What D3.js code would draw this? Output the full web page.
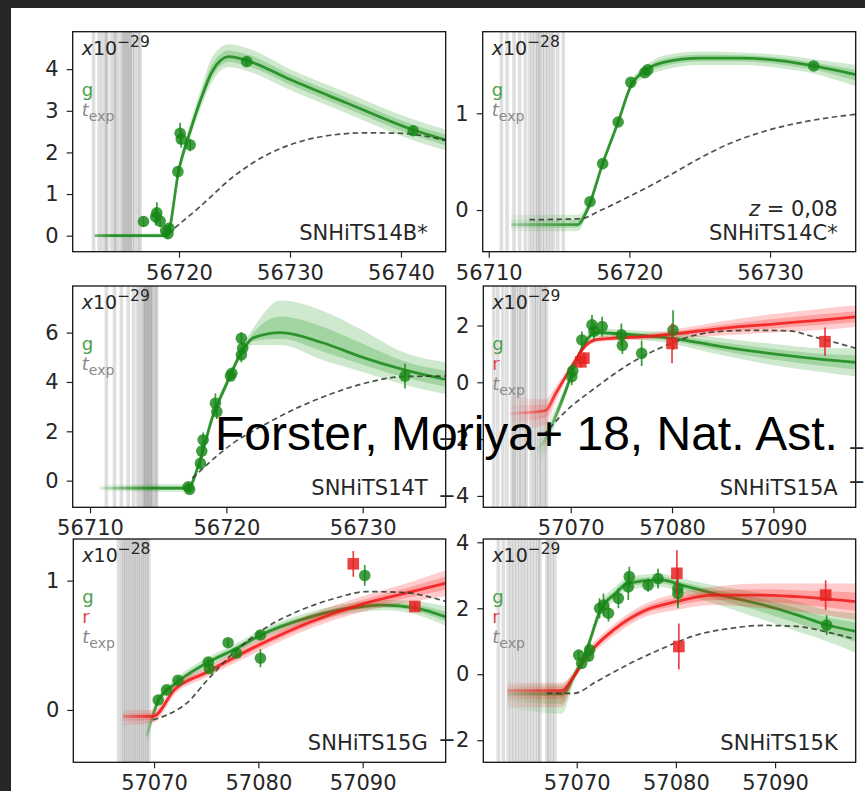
<!DOCTYPE html>
<html><head><meta charset="utf-8">
<script src="https://cdn.jsdelivr.net/npm/d3@7"></script>
<style>
html,body{margin:0;padding:0;background:#262626;}
svg{display:block;}
text{font-family:"DejaVu Sans",sans-serif;}
</style></head><body>
<svg id="chart" width="865" height="791"></svg>
<script>
// ---------------- DATA ----------------
// observations: [MJD, flux, error]; models: [MJD, centre, low, high]; dashed: [MJD, flux]
const s14B_g_obs = [[56716.8,0.34,0.12],[56717.9,0.45,0.2],[56718.0,0.55,0.25],[56718.3,0.35,0.15],[56718.8,0.12,0.1],[56719.0,0.05,0.12],[56719.1,0.18,0.1],[56719.9,1.54,0.12],[56720.1,2.46,0.25],[56720.2,2.32,0.2],[56721.0,2.18,0.15],[56726.1,4.18,0.1],[56741.1,2.52,0.12]];
const s14B_g_model = [[56712.4,0.0,-0.04,0.04],[56718.9,0.0,-0.05,0.05],[56720.0,1.6,1.45,1.75],[56721.0,2.5,2.35,2.7],[56722.0,3.3,3.1,3.55],[56723.0,3.95,3.7,4.3],[56724.5,4.3,4.05,4.6],[56726.2,4.2,3.95,4.5],[56730,3.75,3.5,4.0],[56735,3.2,2.95,3.45],[56741,2.55,2.3,2.8],[56744.03,2.3,2.05,2.55]];
const s14B_dash = [[56719.0,0.05],[56721.9,0.70],[56724.9,1.42],[56727.9,1.94],[56730.9,2.26],[56733.9,2.42],[56736.9,2.47],[56739.9,2.46],[56744.03,2.29]];
const s14B_texp = [56712.3,56712.8,56713.1,56713.4,56713.5,56713.9,56714.2,56714.3,56714.6,56714.9,56715.0,56715.2,56715.3,56715.5,56715.6,56715.8,56716.0,56716.3,56716.5];

const s14C_g_obs = [[56717.2,0.086,0.02],[56718.1,0.48,0.03],[56719.2,0.91,0.03],[56720.1,1.32,0.03],[56721.1,1.42,0.03],[56721.3,1.45,0.03],[56733.1,1.49,0.03]];
const s14C_g_model = [[56711.6,-0.15,-0.22,-0.05],[56716.3,-0.15,-0.22,-0.05],[56717.0,0.0,-0.05,0.05],[56718.1,0.48,0.44,0.52],[56719.2,0.91,0.87,0.95],[56720.1,1.28,1.24,1.33],[56721.2,1.45,1.38,1.5],[56722.5,1.53,1.45,1.6],[56725,1.57,1.5,1.64],[56728,1.57,1.5,1.63],[56731,1.54,1.46,1.6],[56733.1,1.49,1.41,1.56],[56736.09,1.40,1.28,1.5]];
const s14C_dash = [[56712.9,-0.1],[56716.5,-0.09],[56718,0.0],[56720.0,0.14],[56722.5,0.33],[56724.8,0.52],[56727,0.68],[56729.5,0.81],[56733.1,0.93],[56736.09,0.99]];
const s14C_texp = [56710.9,56711.3,56711.8,56712.2,56712.6,56712.9,56713.1,56713.3,56713.5,56713.6,56713.8,56714.0,56714.2,56714.4,56714.6,56714.9,56715.3];

const s14T_g_obs = [[56717.2,-0.25,0.15],[56717.3,-0.35,0.15],[56718.1,0.7,0.25],[56718.2,1.2,0.3],[56718.3,1.65,0.3],[56719.2,3.14,0.4],[56719.3,2.8,0.3],[56720.3,4.24,0.2],[56720.4,4.35,0.2],[56721.1,5.1,0.3],[56721.2,5.37,0.25],[56721.1,5.77,0.25],[56733.1,4.24,0.5]];
const s14T_g_model = [[56710.7,-0.3,-0.45,-0.15],[56717.2,-0.3,-0.45,-0.15],[56718,0.7,0.55,0.85],[56719,2.6,2.4,2.8],[56720,3.9,3.7,4.1],[56721,5.1,4.9,5.3],[56722,5.8,5.5,6.2],[56724,6.0,5.5,7.3],[56727,5.6,4.9,6.9],[56730,5.0,4.4,6.1],[56733,4.5,3.9,5.2],[56736.09,4.1,3.5,4.8]];
const s14T_dash = [[56717.5,0.1],[56720.5,1.52],[56723.0,2.33],[56725.4,3.0],[56727.8,3.54],[56730.3,3.97],[56733.1,4.22],[56736.09,4.24]];
const s14T_texp = [56711.2,56711.8,56712.3,56712.8,56713.2,56713.5,56713.7,56713.9,56714.0,56714.1,56714.2,56714.3,56714.4,56714.5,56714.6,56714.8,56714.9];

const s15A_g_obs = [[57070.1,0.2,0.3],[57070.2,0.4,0.25],[57071.1,1.49,0.3],[57072.1,2.02,0.35],[57072.3,1.8,0.3],[57073.1,1.96,0.35],[57075.0,1.67,0.4],[57075.1,1.3,0.3],[57077.0,1.02,0.45],[57080.1,1.84,0.7]];
const s15A_r_obs = [[57071.0,0.72,0.2],[57071.3,0.85,0.2],[57080.0,1.37,0.7],[57095.1,1.43,0.5]];
const s15A_g_model = [[57066.0,-2.6,-3.4,-1.8],[57067.5,-2.0,-2.6,-1.5],[57068.5,-1.2,-1.5,-0.9],[57069.5,-0.3,-0.5,-0.1],[57070.5,0.7,0.55,0.85],[57071.5,1.45,1.3,1.6],[57072.5,1.75,1.6,1.9],[57075,1.7,1.55,1.85],[57078,1.62,1.45,1.8],[57080,1.55,1.35,1.75],[57085,1.25,0.95,1.55],[57090,1.0,0.6,1.35],[57095,0.8,0.35,1.2],[57098.13,0.7,0.2,1.2]];
const s15A_r_model = [[57064.0,-1.1,-1.7,-0.5],[57067.5,-1.0,-1.5,-0.6],[57068.5,-0.4,-0.7,-0.15],[57069.5,0.2,0.05,0.35],[57070.5,0.8,0.7,0.9],[57071.5,1.3,1.2,1.4],[57072.5,1.5,1.4,1.6],[57074,1.55,1.45,1.65],[57077,1.6,1.5,1.7],[57080,1.7,1.55,1.85],[57085,1.9,1.65,2.15],[57090,2.05,1.75,2.4],[57095,2.2,1.85,2.6],[57098.13,2.3,1.95,2.7]];
const s15A_dash = [[57067.3,-1.86],[57069.3,-1.09],[57072.6,-0.15],[57075.9,0.67],[57079.1,1.25],[57082.4,1.67],[57085.7,1.81],[57089.0,1.83],[57091.6,1.81],[57093.9,1.61],[57098.13,1.2]];
const s15A_texp = [57062.4,57062.8,57063.3,57063.7,57064.2,57064.4,57064.6,57064.9,57065.1,57065.4,57065.6,57066.1,57066.4,57066.6,57066.9,57067.1,57067.4,57067.6];

const s15G_g_obs = [[57070.4,0.077,0.02],[57071.2,0.155,0.02],[57072.3,0.23,0.025],[57075.2,0.37,0.03],[57075.3,0.32,0.03],[57077.1,0.52,0.03],[57077.9,0.44,0.03],[57080.2,0.58,0.03],[57080.2,0.40,0.07],[57090.2,1.04,0.08]];
const s15G_r_obs = [[57089.1,1.13,0.1],[57095.0,0.80,0.03]];
const s15G_g_model = [[57069.3,-0.2,-0.3,-0.1],[57070.4,0.07,0.03,0.11],[57072,0.2,0.16,0.24],[57075,0.36,0.32,0.4],[57078,0.48,0.44,0.52],[57080,0.57,0.53,0.61],[57085,0.72,0.68,0.76],[57090,0.8,0.76,0.84],[57092,0.81,0.77,0.85],[57095,0.79,0.74,0.84],[57097.96,0.72,0.65,0.8]];
const s15G_r_model = [[57067.0,-0.05,-0.12,0.0],[57069.9,-0.05,-0.1,0.0],[57072,0.16,0.12,0.2],[57075,0.29,0.25,0.33],[57080,0.5,0.45,0.55],[57085,0.68,0.63,0.74],[57090,0.82,0.76,0.88],[57095,0.92,0.84,1.0],[57097.96,0.98,0.88,1.08]];
const s15G_dash = [[57069.9,-0.077],[57071.2,-0.04],[57073.1,0.05],[57075.1,0.23],[57077.6,0.44],[57080.8,0.64],[57084.0,0.77],[57087.2,0.86],[57090.4,0.915],[57093.6,0.91],[57097.96,0.84]];
const s15G_texp = [57066.6,57066.9,57067.1,57067.3,57067.5,57067.7,57067.9,57068.1,57068.3,57068.5,57068.7,57068.9,57069.1,57069.3,57069.5];

const s15K_g_obs = [[57070.2,0.58,0.15],[57070.5,0.33,0.15],[57071.3,0.74,0.2],[57071.2,0.55,0.15],[57072.3,2.0,0.3],[57072.7,2.1,0.35],[57073.2,1.85,0.25],[57074.2,2.3,0.3],[57075.2,2.65,0.4],[57075.3,2.96,0.3],[57077.2,2.7,0.2],[57078.2,2.9,0.3],[57080.2,2.6,0.6],[57080.2,2.45,0.35],[57095.2,1.49,0.3]];
const s15K_r_obs = [[57080.1,3.06,0.7],[57080.3,0.84,0.7],[57095.1,2.4,0.45]];
const s15K_g_model = [[57063.0,-0.6,-1.0,-0.3],[57068.5,-0.6,-1.2,-0.3],[57069.7,-0.07,-0.25,0.1],[57071.0,0.74,0.55,0.9],[57072.4,1.95,1.75,2.15],[57073.9,2.45,2.25,2.65],[57075.2,2.76,2.55,2.95],[57078.5,2.86,2.65,3.05],[57080.6,2.7,2.45,2.9],[57083.8,2.45,2.15,2.7],[57088.8,2.1,1.65,2.45],[57092.2,1.8,1.3,2.2],[57095.2,1.5,1.0,1.95],[57098.13,1.3,0.65,1.85]];
const s15K_r_model = [[57063.0,-0.5,-1.0,-0.25],[57068.5,-0.5,-1.0,-0.25],[57069.7,-0.07,-0.2,0.05],[57071.3,0.65,0.5,0.8],[57073.7,1.34,1.15,1.5],[57077.0,1.95,1.75,2.15],[57080.0,2.2,1.95,2.45],[57083.8,2.4,2.1,2.65],[57088.8,2.4,2.0,2.75],[57092.2,2.35,1.9,2.75],[57098.13,2.2,1.65,2.75]];
const s15K_dash = [[57067.0,-0.58],[57069.7,-0.58],[57072.0,-0.22],[57075.4,0.33],[57078.7,0.79],[57082.1,1.19],[57085.5,1.39],[57088.8,1.48],[57092.2,1.45],[57095.5,1.26],[57098.13,1.06]];
const s15K_texp = [57062.1,57062.6,57063.1,57063.4,57063.7,57064.0,57064.3,57064.6,57064.9,57065.2,57065.5,57065.8,57066.1,57066.3,57067.0,57067.2,57067.5,57067.8];

// tick labels
const xt14B = [56720,56730,56740];
const xt14 = [56710,56720,56730];
const xt15 = [57070,57080,57090];
const yt14B = [0,1,2,3,4];
const yt01 = [0,1];
const yt14T = [0,2,4,6];
const yt15A = [-4,-2,0,2];
const yt15K = [-2,0,2,4];
const ytCut = [-4,-2];

// ---------------- LAYOUT / STYLE ----------------
const panels = [
 {name:"SNHiTS14B*", left:72.7, top:31.7, w:373, h:220, xd:[56710.42,56744.03], yd:[-0.385,4.9], xt:xt14B, yt:yt14B, ex:"−29", g:s14B_g_obs, gm:s14B_g_model, dash:s14B_dash, texp:s14B_texp, fg:[56711.5,56714,0.3]},
 {name:"SNHiTS14C*", z:"0,08", left:482.7, top:31.7, w:373, h:220, xd:[56709.57,56736.09], yd:[-0.431,1.844], xt:xt14, yt:yt01, ex:"−28", g:s14C_g_obs, gm:s14C_g_model, dash:s14C_dash, texp:s14C_texp, fg:[56711.6,56717,0.3]},
 {name:"SNHiTS14T", left:72.7, top:286, w:373, h:221.3, xd:[56708.73,56736.09], yd:[-1.08,7.89], xt:xt14, yt:yt14T, ex:"−29", g:s14T_g_obs, gm:s14T_g_model, dash:s14T_dash, texp:s14T_texp, fg:[56710.7,56714.5,0.1]},
 {name:"SNHiTS15A", left:483.3, top:286, w:372.4, h:221.3, xd:[57061.37,57098.13], yd:[-4.40,3.39], xt:xt15, yt:yt15A, ex:"−29", g:s15A_g_obs, gm:s15A_g_model, r:s15A_r_obs, rm:s15A_r_model, dash:s15A_dash, texp:s15A_texp, fg:[57066.5,57069.5,0.0], fr:[57064,57069,0.1]},
 {name:"SNHiTS15G", left:73.3, top:539, w:372.4, h:223.3, xd:[57062.26,57097.96], yd:[-0.405,1.322], xt:xt15, yt:yt01, ex:"−28", g:s15G_g_obs, gm:s15G_g_model, r:s15G_r_obs, rm:s15G_r_model, dash:s15G_dash, texp:s15G_texp, fg:[57069.3,57070.3,0.2], fr:[57067,57070,0.35]},
 {name:"SNHiTS15K", left:483.3, top:539, w:372.4, h:223.3, xd:[57060.58,57098.13], yd:[-2.67,4.1], xt:xt15, yt:yt15K, ex:"−29", g:s15K_g_obs, gm:s15K_g_model, r:s15K_r_obs, rm:s15K_r_model, dash:s15K_dash, texp:s15K_texp, fg:[57063,57069.7,0.2], fr:[57063,57069.7,0.3]}
];

const GREEN = "#1f9a1f", RED = "#ff1c1c";
const svg = d3.select("#chart");
svg.append("rect").attr("width",865).attr("height",791).attr("fill","#262626");
svg.append("rect").attr("x",11).attr("y",8).attr("width",854).attr("height",783).attr("fill","#ffffff");
const defs = svg.append("defs");

function styleAxis(a){
  a.select(".domain").remove();
  a.selectAll(".tick line").attr("stroke","#222").attr("stroke-width",1.2);
  a.selectAll(".tick text").attr("fill","#262626").style("font-size","21px").style("font-family","'DejaVu Sans',sans-serif");
}
function fadeGrad(id, color, x, f){
  const lg = defs.append("linearGradient").attr("id",id).attr("gradientUnits","userSpaceOnUse")
    .attr("x1",x(f[0])).attr("x2",x(f[1])).attr("y1",0).attr("y2",0);
  lg.append("stop").attr("offset",0).attr("stop-color",color).attr("stop-opacity",f[2]);
  lg.append("stop").attr("offset",1).attr("stop-color",color).attr("stop-opacity",1);
  return `url(#${id})`;
}

panels.forEach((p,i)=>{
  const g = svg.append("g").attr("transform",`translate(${p.left},${p.top})`);
  const x = d3.scaleLinear().domain(p.xd).range([0,p.w]);
  const y = d3.scaleLinear().domain(p.yd).range([p.h,0]);
  g.append("clipPath").attr("id","c"+i).append("rect").attr("width",p.w).attr("height",p.h);
  const pl = g.append("g").attr("clip-path",`url(#c${i})`);

  pl.selectAll("line.texp").data(p.texp).join("line").attr("class","texp")
    .attr("x1",d=>x(d)).attr("x2",d=>x(d)).attr("y1",0).attr("y2",p.h)
    .attr("stroke","#2a2a2a").attr("stroke-opacity",0.15).attr("stroke-width",3.6);

  const bands = [{m:p.gm,c:GREEN,lc:"#188818",f:p.fg,k:"g"}];
  if(p.rm) bands.push({m:p.rm,c:RED,lc:"#f01818",f:p.fr,k:"r"});
  bands.forEach(b=>{
    const paint = fadeGrad(`f${i}${b.k}`, b.c, x, b.f);
    const lpaint = fadeGrad(`l${i}${b.k}`, b.lc, x, b.f);
    const outer = d3.area().x(d=>x(d[0])).y0(d=>y(d[2])).y1(d=>y(d[3])).curve(d3.curveMonotoneX);
    const inner = d3.area().x(d=>x(d[0])).y0(d=>y((d[1]+d[2])/2)).y1(d=>y((d[1]+d[3])/2)).curve(d3.curveMonotoneX);
    const line = d3.line().x(d=>x(d[0])).y(d=>y(d[1])).curve(d3.curveMonotoneX);
    pl.append("path").datum(b.m).attr("d",outer).attr("fill",paint).attr("fill-opacity",0.22);
    pl.append("path").datum(b.m).attr("d",inner).attr("fill",paint).attr("fill-opacity",0.25);
    pl.append("path").datum(b.m).attr("d",line).attr("fill","none").attr("stroke",lpaint).attr("stroke-width",2.8).attr("stroke-opacity",0.85);
  });

  pl.append("path").datum(p.dash).attr("d",d3.line().x(d=>x(d[0])).y(d=>y(d[1])).curve(d3.curveMonotoneX))
    .attr("fill","none").attr("stroke","#2b362b").attr("stroke-opacity",0.85).attr("stroke-width",1.7).attr("stroke-dasharray","5.5,3.5");

  // observations
  const gg = pl.append("g");
  gg.selectAll("line").data(p.g).join("line").attr("x1",d=>x(d[0])).attr("x2",d=>x(d[0]))
    .attr("y1",d=>y(d[1]-d[2])).attr("y2",d=>y(d[1]+d[2])).attr("stroke","#178717").attr("stroke-width",1.7).attr("stroke-opacity",0.85);
  gg.selectAll("circle").data(p.g).join("circle").attr("cx",d=>x(d[0])).attr("cy",d=>y(d[1])).attr("r",5.8)
    .attr("fill","#178717").attr("fill-opacity",0.82);
  if(p.r){
    const rg = pl.append("g");
    rg.selectAll("line").data(p.r).join("line").attr("x1",d=>x(d[0])).attr("x2",d=>x(d[0]))
      .attr("y1",d=>y(d[1]-d[2])).attr("y2",d=>y(d[1]+d[2])).attr("stroke","#e82222").attr("stroke-width",1.7).attr("stroke-opacity",0.85);
    rg.selectAll("rect").data(p.r).join("rect").attr("x",d=>x(d[0])-5.8).attr("y",d=>y(d[1])-5.8).attr("width",11.6).attr("height",11.6)
      .attr("fill","#e82222").attr("fill-opacity",0.85);
  }

  g.append("rect").attr("width",p.w).attr("height",p.h).attr("fill","none").attr("stroke","#111").attr("stroke-width",1.3);
  g.append("g").attr("transform",`translate(0,${p.h})`)
    .call(d3.axisBottom(x).tickValues(p.xt).tickFormat(d3.format("d")).tickSize(6).tickPadding(7)).call(styleAxis);
  g.append("g").call(d3.axisLeft(y).tickValues(p.yt).tickFormat(d3.format("d")).tickSize(6).tickPadding(8)).call(styleAxis);

  // multiplier
  const mt = g.append("text").attr("x",9).attr("y",23).attr("fill","#262626").style("font-size","19px");
  mt.append("tspan").text("x").style("font-style","italic");
  mt.append("tspan").text("10");
  mt.append("tspan").text(p.ex).attr("dy",-8).style("font-size","15.5px");

  // legend
  const items = [{t:"g",c:"#4aa04a"}];
  if(p.r) items.push({t:"r",c:"#e04646"});
  items.push({t:"t",c:"#8a8a8a",sub:"exp"});
  items.forEach((it,k)=>{
    const tx = g.append("text").attr("x",9).attr("y",64+k*20).attr("fill",it.c).style("font-size","18px");
    if(it.sub){
      tx.append("tspan").text("t").style("font-style","italic");
      tx.append("tspan").text("exp").attr("dy",5).style("font-size","14px");
    } else tx.text(it.t);
  });

  // name
  g.append("text").attr("x",p.w-18).attr("y",p.h-12).attr("text-anchor","end").attr("fill","#262626").style("font-size","21px").text(p.name);
  if(p.z){
    const zt = g.append("text").attr("x",p.w-18).attr("y",p.h-36).attr("text-anchor","end").attr("fill","#262626").style("font-size","21px");
    zt.append("tspan").text("z").style("font-style","italic");
    zt.append("tspan").text(" = "+p.z);
  }
});

// cut-off third-column axis (only the minus signs fall inside the view)
const yCut = d3.scaleLinear().domain([-4,-2]).range([195.7,162]);
svg.append("g").attr("transform","translate(893,286)")
  .call(d3.axisLeft(yCut).tickValues(ytCut).tickFormat(d3.format("d")).tickSize(6).tickPadding(8)).call(styleAxis);

// overlay caption
svg.append("text").attr("x",215).attr("y",450).attr("fill","#000")
  .style("font-family","'Liberation Sans',Arial,sans-serif").style("font-size","48px")
  .text("Forster, Moriya+ 18, Nat. Ast.");
</script>
</body></html>
